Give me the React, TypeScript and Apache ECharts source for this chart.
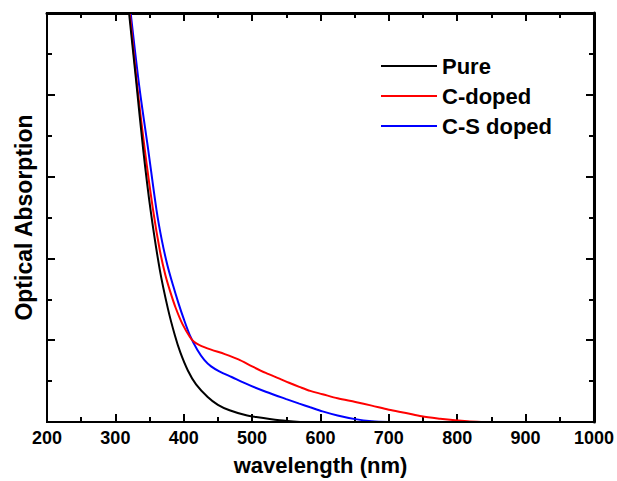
import React, { useEffect, useRef } from "react";
import * as echarts from "echarts";

const xTicks = [200, 300, 400, 500, 600, 700, 800, 900, 1000];

const pureWavelength = [320, 330, 340.7, 351.5, 365, 377, 387, 395, 406, 418, 435, 450, 467, 490, 506, 540, 570];
const pureValues = [5.0, 4.2, 3.33, 2.59, 1.86, 1.38, 1.06, 0.85, 0.63, 0.46, 0.306, 0.21, 0.143, 0.085, 0.06, 0.02, 0.0];

const cDopedWavelength = [321, 332, 343, 355, 365, 373, 380, 388, 398, 409, 415, 423, 440, 460, 480, 500, 520, 540, 554, 569, 585, 603, 625, 651, 675, 700, 725, 748, 775, 797, 815, 835];
const cDopedValues = [5.0, 4.1, 3.33, 2.6, 2.1, 1.8, 1.6, 1.4, 1.2, 1.04, 0.98, 0.94, 0.885, 0.83, 0.765, 0.68, 0.6, 0.53, 0.48, 0.43, 0.38, 0.34, 0.29, 0.245, 0.2, 0.15, 0.11, 0.07, 0.04, 0.02, 0.008, 0.0];

const csDopedWavelength = [322.4, 335, 348, 360, 368, 376, 384, 392, 400, 409, 420, 430, 440, 452, 470, 496, 520, 550, 569, 585, 603, 625, 651, 675, 700];
const csDopedValues = [5.0, 4.1, 3.33, 2.6, 2.22, 1.92, 1.68, 1.46, 1.26, 1.06, 0.88, 0.76, 0.68, 0.62, 0.55, 0.45, 0.37, 0.28, 0.225, 0.18, 0.13, 0.08, 0.035, 0.01, 0.0];

const seriesNames = ["Pure", "C-doped", "C-S doped"];
const seriesColors = ["#000000", "#ff0000", "#0000ff"];

const FONT = "'Liberation Sans', Arial, sans-serif";

function pairs(xs: number[], ys: number[]) {
  return xs.map((x, i) => [x, ys[i]]);
}

export default function App() {
  const ref = useRef<HTMLDivElement>(null);
  useEffect(() => {
    if (!ref.current) return;
    const chart = echarts.init(ref.current, null, { renderer: "svg" });
    const datasets = [
      pairs(pureWavelength, pureValues),
      pairs(cDopedWavelength, cDopedValues),
      pairs(csDopedWavelength, csDopedValues),
    ];
    const axisLine = { show: true, onZero: false, lineStyle: { color: "#000", width: 2 } };
    const axisTick = { show: true, inside: true, length: 8, lineStyle: { color: "#000", width: 2 } };
    const minorTick = { show: true, splitNumber: 2, length: 5, lineStyle: { color: "#000", width: 2 } };
    const xMin = xTicks[0];
    const xMax = xTicks[xTicks.length - 1];
    chart.setOption({
      animation: false,
      backgroundColor: "#fff",
      grid: {
        left: 47,
        top: 13,
        right: 21,
        bottom: 59,
        containLabel: false,
        show: true,
        borderColor: "#000",
        borderWidth: 2,
        backgroundColor: "rgba(0,0,0,0)",
        z: 10,
      },
      legend: {
        data: seriesNames.map((n, i) => ({ name: n, icon: "rect", itemStyle: { color: seriesColors[i] } })),
        orient: "vertical",
        left: 381,
        top: 55,
        padding: 0,
        itemWidth: 56,
        itemHeight: 2,
        itemGap: 8,
        textStyle: { fontSize: 22, fontWeight: "bold", fontFamily: FONT, color: "#000", lineHeight: 22 },
      },
      xAxis: [
        {
          type: "value",
          min: xMin,
          max: xMax,
          interval: 100,
          position: "bottom",
          name: "wavelength (nm)",
          nameLocation: "middle",
          nameGap: 32,
          nameTextStyle: { fontSize: 22, fontWeight: "bold", fontFamily: FONT, color: "#000" },
          axisLine,
          axisTick,
          minorTick,
          axisLabel: {
            fontSize: 18,
            fontWeight: "bold",
            fontFamily: FONT,
            color: "#000",
            margin: 7,
            formatter: (v: number) => String(v),
          },
          splitLine: { show: false },
        },
        {
          type: "value",
          min: xMin,
          max: xMax,
          interval: 100,
          position: "top",
          axisLine: { show: true, onZero: false, lineStyle: { color: "#000", width: 3 } },
          axisTick,
          minorTick,
          axisLabel: { show: false },
          splitLine: { show: false },
        },
      ],
      yAxis: [
        {
          type: "value",
          min: 0,
          max: 5,
          interval: 1,
          position: "left",
          name: "Optical Absorption",
          nameLocation: "middle",
          nameGap: 12,
          nameTextStyle: { fontSize: 23, fontWeight: "bold", fontFamily: FONT, color: "#000" },
          axisLine,
          axisTick,
          minorTick,
          axisLabel: { show: false },
          splitLine: { show: false },
        },
        {
          type: "value",
          min: 0,
          max: 5,
          interval: 1,
          position: "right",
          axisLine: { show: true, onZero: false, lineStyle: { color: "#000", width: 3 } },
          axisTick,
          minorTick,
          axisLabel: { show: false },
          splitLine: { show: false },
        },
      ],
      series: seriesNames.map((name, i) => ({
        name,
        type: "line",
        data: datasets[i],
        symbol: "none",
        smooth: 0.3,
        clip: true,
        color: seriesColors[i],
        lineStyle: { color: seriesColors[i], width: 2 },
        z: 3 - i,
      })),
    });
    return () => chart.dispose();
  }, []);
  return (
    <div
      ref={ref}
      style={{ position: "absolute", left: 0, top: 0, width: 617, height: 481 }}
    />
  );
}
